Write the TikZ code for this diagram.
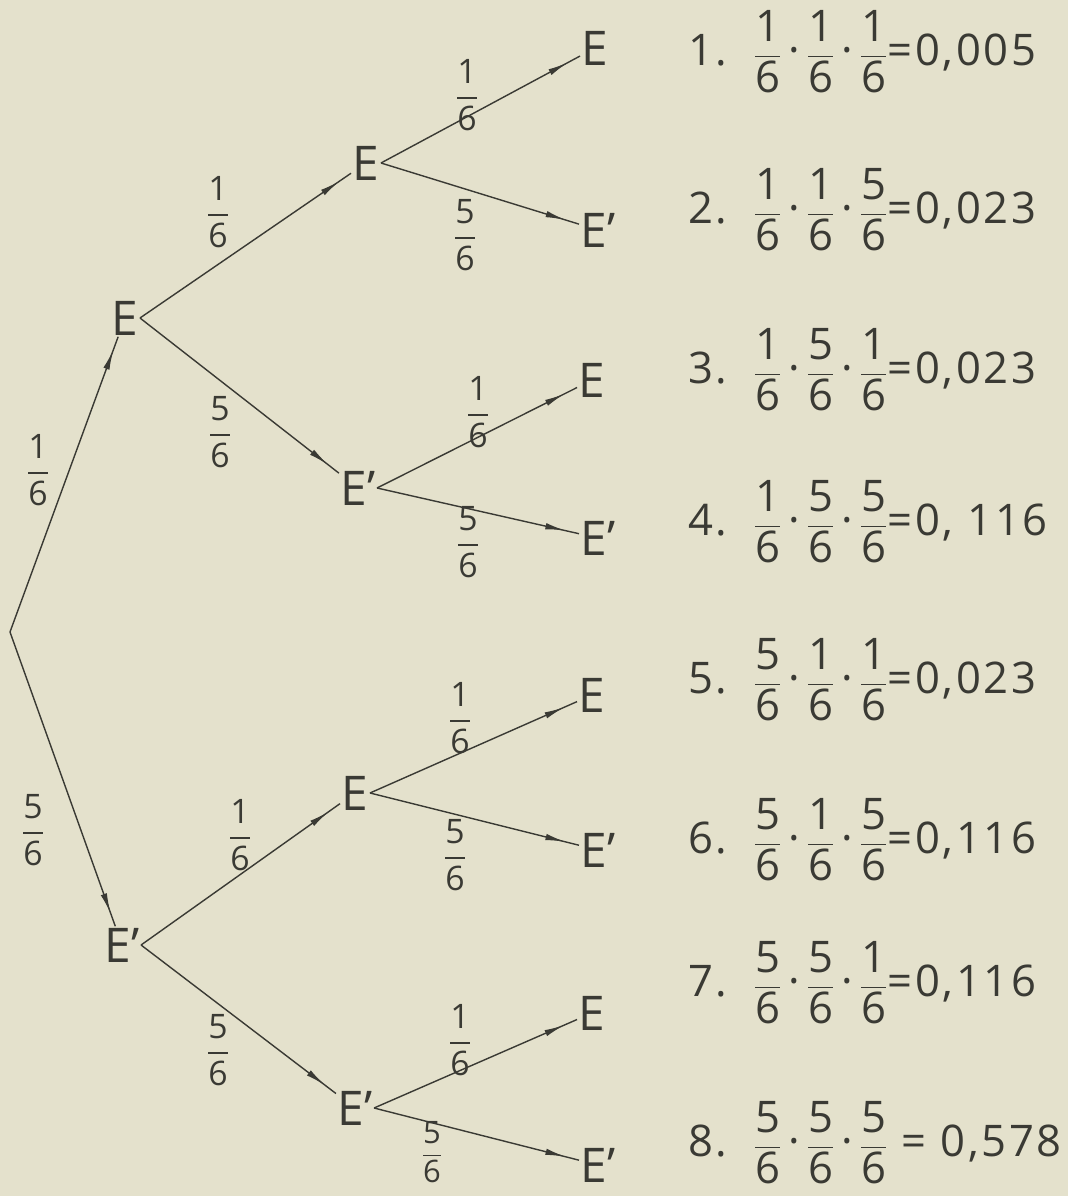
\documentclass[tikz,border=0pt]{standalone}
\usepackage{amsmath}
\usepackage{fontspec}
\setmainfont{Open Sans}
\usetikzlibrary{arrows.meta,decorations.markings}
\definecolor{Paper}{RGB}{228,225,204}
\definecolor{Ink}{RGB}{58,58,52}
\newcommand\fr[2]{$\genfrac{}{}{0.9pt}{0}{\hbox{#1}}{\hbox{#2}}$}
\newcommand\dt{\hspace{0.15em}·\hspace{0.15em}}

\begin{document}
\begin{tikzpicture}[x=0.025cm,y=-0.025cm,
  ev/.style={font=\fontsize{34}{34}\selectfont, text=Ink, inner sep=1pt},
  pr/.style={font=\fontsize{24}{24}\selectfont, text=Ink, inner sep=0pt},
  res/.style={font=\fontsize{31}{31}\selectfont\addfontfeatures{LetterSpace=6}, text=Ink, anchor=west, inner sep=0pt},
  br/.style={draw=Ink, line width=1pt, postaction=decorate,
    decoration={markings, mark=at position -0.35cm with {\arrow{Latex[length=5mm,width=1.6mm]}}}}]
\fill[Paper] (0,0) rectangle (1068,1196);
% events
\coordinate (R) at (10,632);
\node[ev] (A) at (125,318) {E};
\node[ev] (B) at (122,945) {E'};
\node[ev] (AA) at (366,163) {E};
\node[ev] (AB) at (358,488) {E'};
\node[ev] (BA) at (355,793) {E};
\node[ev] (BB) at (355,1108) {E'};
\node[ev] (AAA) at (595,48) {E};
\node[ev] (AAB) at (598,230) {E'};
\node[ev] (ABA) at (592,380) {E};
\node[ev] (ABB) at (598,538) {E'};
\node[ev] (BAA) at (592,695) {E};
\node[ev] (BAB) at (598,850) {E'};
\node[ev] (BBA) at (592,1013) {E};
\node[ev] (BBB) at (598,1165) {E'};
% branches
\draw[br] (R) -- (A);
\draw[br] (R) -- (B);
\foreach \p in {A,B,AA,AB,BA,BB}{
  \draw[br] (\p.east) -- (\p A);
  \draw[br] (\p.east) -- (\p B);
}
% probabilities
\node[pr] (pA) at (38,470) {\fr16};
\node[pr] (pB) at (33,830) {\fr56};
\node[pr] (pAA) at (218,212) {\fr16};
\node[pr] (pAB) at (220,432) {\fr56};
\node[pr] (pBA) at (240,835) {\fr16};
\node[pr] (pBB) at (218,1050) {\fr56};
\node[pr] (pAAA) at (467,95) {\fr16};
\node[pr] (pAAB) at (465,235) {\fr56};
\node[pr] (pABA) at (478,412) {\fr16};
\node[pr] (pABB) at (468,542) {\fr56};
\node[pr] (pBAA) at (460,718) {\fr16};
\node[pr] (pBAB) at (455,855) {\fr56};
\node[pr] (pBBA) at (460,1040) {\fr16};
\node[pr, font=\fontsize{22}{22}\selectfont] (pBBB) at (432,1152) {\fr56};
% products
\node[res] (r1) at (688,52) {1.\hspace{0.6em}\fr16\dt\fr16\dt\fr16=0,005};
\node[res] (r2) at (688,210) {2.\hspace{0.6em}\fr16\dt\fr16\dt\fr56=0,023};
\node[res] (r3) at (688,370) {3.\hspace{0.6em}\fr16\dt\fr56\dt\fr16=0,023};
\node[res] (r4) at (688,522) {4.\hspace{0.6em}\fr16\dt\fr56\dt\fr56=0, 116};
\node[res] (r5) at (688,680) {5.\hspace{0.6em}\fr56\dt\fr16\dt\fr16=0,023};
\node[res] (r6) at (688,840) {6.\hspace{0.6em}\fr56\dt\fr16\dt\fr56=0,116};
\node[res] (r7) at (688,983) {7.\hspace{0.6em}\fr56\dt\fr56\dt\fr16=0,116};
\node[res] (r8) at (688,1143) {8.\hspace{0.6em}\fr56\dt\fr56\dt\fr56 = 0,578};
\end{tikzpicture}
\end{document}
